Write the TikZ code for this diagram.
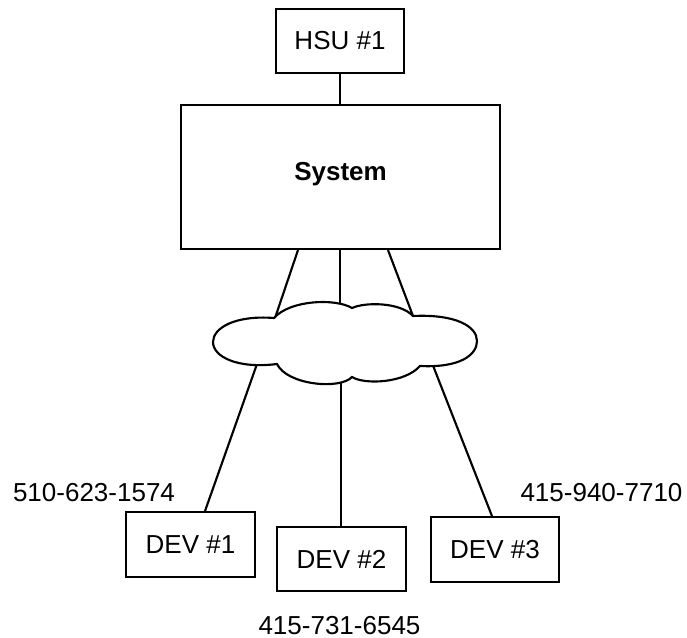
\documentclass[tikz,border=0pt]{standalone}
\usepackage{fontspec}
\setmainfont{Liberation Sans}
\usetikzlibrary{calc}

\begin{document}
\begin{tikzpicture}[x=0.75pt, y=-0.75pt, line width=1.6pt,
		box/.style={draw, line width=1.6pt, fill=white, inner sep=0pt, minimum width=96.5pt, minimum height=48.5pt, font=\fontsize{19.5}{23}\selectfont},
		phone/.style={inner sep=0pt, font=\fontsize{19.5}{23}\selectfont}]
			%%%%% START %%%%%
			
			\useasboundingbox (0, 0) rectangle (687, 638);
			
			\node[box] (hsu) at (340, 41) {HSU \#1};
			\node[box, minimum width=239.25pt, minimum height=108pt, text depth=8pt, font=\fontsize{19.5}{23}\selectfont\bfseries] (sys) at (340.5, 177) {System};
			
			\node[box] (dev1) at (190.5, 544.5) {DEV \#1};
			\node[box] (dev2) at (341.5, 559) {DEV \#2};
			\node[box] (dev3) at (495, 549.5) {DEV \#3};
			
			\node[phone] (ph1) at (94, 492.5) {510-623-1574};
			\node[phone] (ph2) at (339.5, 625.5) {415-731-6545};
			\node[phone] (ph3) at (601.5, 493) {415-940-7710};
			
			% points just inside the cloud, where the lines end
			\coordinate (cl-t1) at (273.5, 322.5);
			\coordinate (cl-t2) at (340, 310);
			\coordinate (cl-t3) at (413, 316);
			\coordinate (cl-b1) at (257, 364);
			\coordinate (cl-b2) at (341, 378);
			\coordinate (cl-b3) at (432, 363);
			
			\draw (hsu.south) -- (hsu.south |- sys.north);
			
			\draw (sys.south) ++(-42.5, 0) -- (cl-t1);
			\draw (sys.south) ++(-0.5, 0) -- (cl-t2);
			\draw (sys.south) ++(47.5, 0) -- (cl-t3);
			
			\draw (cl-b1) -- ($(dev1.north)+(14.5, 0)$);
			\draw (cl-b2) -- (cl-b2 |- dev2.north);
			\draw (cl-b3) -- ($(dev3.north)+(-3, 0)$);
			
			% cloud
			\draw[fill=white] (274, 318) .. controls (235, 315) and (213, 328) .. (213, 342)
				.. controls (213, 357) and (238, 369) .. (277, 364)
				.. controls (287, 385) and (340, 390) .. (352, 377)
				.. controls (365, 385) and (405, 383) .. (420, 366)
				.. controls (460, 368) and (477, 355) .. (477, 341)
				.. controls (477, 326) and (455, 314) .. (413, 316)
				.. controls (400, 302) and (365, 302) .. (352, 308)
				.. controls (335, 298) and (290, 300) .. (274, 318) -- cycle;
			
			%%%%% END %%%%%
		\end{tikzpicture}
\end{document}
